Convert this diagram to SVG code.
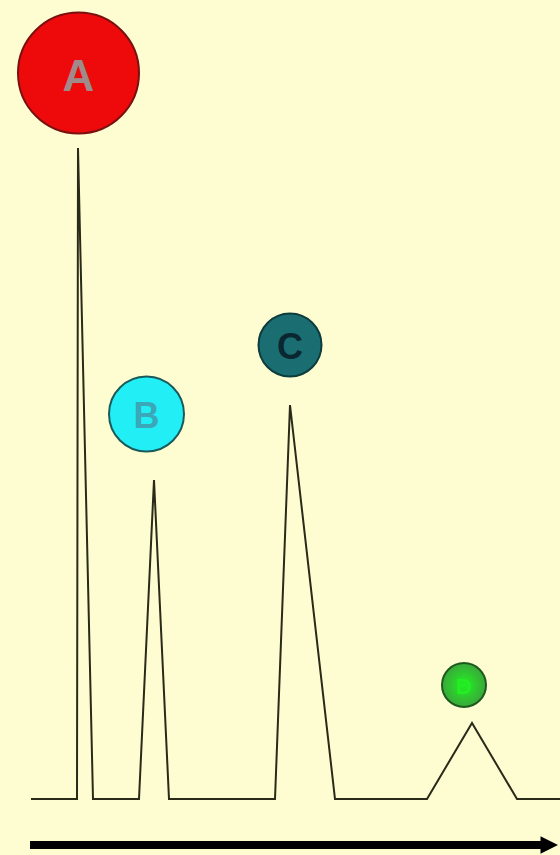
<svg xmlns="http://www.w3.org/2000/svg" width="560" height="855" viewBox="0 0 560 855">
<style>
.lbl{font-family:"Liberation Sans",Arial,sans-serif;font-weight:bold;text-anchor:middle;dominant-baseline:central}
.trace{fill:none;stroke:#2a2a18;stroke-width:2;stroke-linejoin:miter}
</style>
<defs>
<marker id="ah" viewBox="0 0 10 10" refX="2" refY="5" markerWidth="2.2" markerHeight="2.2" orient="auto" markerUnits="strokeWidth">
<path d="M0,0 L10,5 L0,10 z" fill="#000"/>
</marker>
<radialGradient id="gD" cx="0.5" cy="0.5" r="0.5">
<stop offset="0" stop-color="#22f022"/>
<stop offset="1" stop-color="#3aa83a"/>
</radialGradient>
</defs>
<rect width="560" height="855" fill="#fefdd2"/>
<g id="connectors">
<polyline class="trace" points="31,799 77,799 78,148 93,799 139,799 154,480 169,799 275,799 290,405 335,799 427,799 472,723 517,799 560,799"/>
<line x1="30" y1="845" x2="544" y2="845" stroke="#000" stroke-width="8" marker-end="url(#ah)"/>
</g>
<g id="nodeA">
<circle cx="78.5" cy="73" r="60.5" fill="#ee0a0a" stroke="#7a1010" stroke-width="2"/>
<text class="lbl" x="78.5" y="75" font-size="44" fill="#a08a8a">A</text>
</g>
<g id="nodeB">
<circle cx="146.5" cy="414" r="37.5" fill="#22eef6" stroke="#1a5a5a" stroke-width="2"/>
<text class="lbl" x="146.5" y="415" font-size="36" fill="#3aa8b8">B</text>
</g>
<g id="nodeC">
<circle cx="290" cy="345" r="31.5" fill="#1a6e72" stroke="#0e3c3c" stroke-width="2"/>
<text class="lbl" x="290" y="346" font-size="36" fill="#0a2630">C</text>
</g>
<g id="nodeD">
<circle cx="464" cy="685" r="22" fill="url(#gD)" stroke="#1e5a1e" stroke-width="2"/>
<text class="lbl" x="464" y="686" font-size="22" fill="#22ee22">D</text>
</g>
</svg>
